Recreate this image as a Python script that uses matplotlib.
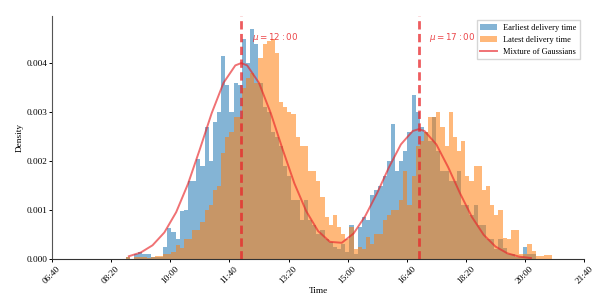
import matplotlib
matplotlib.use("Agg")
import matplotlib.pyplot as plt
import numpy as np

BLUE = "#1f77b4"
ORANGE = "#ff7f0e"
RED = "#e8262a"

# histogram bins: minutes after midnight, 7-minute bins from 08:45
BIN_START = 525
BIN_WIDTH = 7

# density values, in units of 1e-4
earliest = [
    0.5, 0.0, 1.0, 1.4, 1.0, 1.0, 0.3, 0.3, 0.5, 2.5,
    6.4, 5.5, 4.0, 9.8, 10.0, 16.0, 16.0, 20.5, 19.0, 27.0,
    20.0, 28.0, 30.0, 41.5, 35.5, 30.0, 36.0, 35.5, 45.0, 40.0,
    47.0, 44.0, 36.0, 31.0, 30.0, 26.0, 25.0, 23.0, 19.0, 17.0,
    12.0, 12.0, 8.0, 12.0, 8.0, 7.0, 5.0, 6.0, 4.0, 3.5,
    2.5, 2.0, 3.0, 1.5, 7.0, 1.0, 6.5, 8.5, 8.0, 13.0,
    14.0, 15.0, 17.0, 20.0, 27.5, 18.0, 20.0, 22.0, 26.0, 33.5,
    30.0, 27.0, 26.0, 24.0, 29.0, 22.0, 18.0, 18.0, 16.0, 16.0,
    18.0, 11.0, 11.0, 9.0, 11.0, 7.0, 7.0, 4.0, 4.0, 2.0,
    4.0, 2.2, 1.0, 1.0, 0.5, 0.5, 2.5, 1.0, 1.0,
]
latest = [
    0.3, 0.0, 0.3, 0.5, 0.3, 0.2, 0.5, 0.7, 0.7, 1.0,
    1.0, 1.5, 2.8, 2.2, 4.0, 4.0, 6.0, 6.0, 7.5, 10.0,
    11.0, 14.0, 15.0, 21.7, 25.0, 26.0, 29.0, 29.0, 35.0, 37.0,
    38.0, 36.0, 41.0, 44.0, 44.5, 45.0, 42.0, 32.0, 31.0, 30.0,
    29.6, 25.0, 23.0, 23.0, 18.0, 18.0, 16.0, 12.6, 8.5, 7.0,
    9.0, 6.5, 5.0, 4.0, 6.5, 2.0, 2.5, 2.0, 4.5, 3.0,
    5.0, 5.0, 8.0, 9.0, 10.0, 10.0, 12.0, 18.0, 11.0, 17.0,
    23.0, 24.0, 26.0, 29.0, 29.0, 30.0, 27.0, 23.0, 30.0, 25.0,
    22.0, 24.0, 17.0, 16.0, 19.0, 19.0, 14.0, 15.0, 11.0, 9.0,
    10.0, 4.3, 4.0, 6.0, 6.0, 1.0, 1.0, 3.0, 1.7, 0.6,
    0.6, 0.8, 0.8,
]

# mixture-of-Gaussians curve (minutes, density 1e-3)
curve_t = [530, 550, 570, 590, 610, 630, 650, 670, 690, 710, 720, 730, 750,
           770, 790, 810, 830, 850, 870, 890, 910, 930, 950, 970, 990, 1010,
           1020, 1030, 1050, 1070, 1090, 1110, 1130, 1150, 1170, 1190, 1210]
curve_d = [0.056, 0.131, 0.279, 0.541, 0.956, 1.534, 2.240, 2.976, 3.596,
           3.953, 4.000, 3.953, 3.596, 2.976, 2.240, 1.540, 0.974, 0.570,
           0.350, 0.330, 0.520, 0.882, 1.350, 1.876, 2.339, 2.613, 2.650,
           2.613, 2.339, 1.873, 1.342, 0.860, 0.493, 0.253, 0.116, 0.048,
           0.018]

means = [720, 1020]
mean_labels = [r"$\mu=12:00$", r"$\mu=17:00$"]

tick_minutes = [400, 500, 600, 700, 800, 900, 1000, 1100, 1200, 1300]
tick_labels = ["06:40", "08:20", "10:00", "11:40", "13:20",
               "15:00", "16:40", "18:20", "20:00", "21:40"]

plt.rcParams.update({
    "font.family": ["Liberation Serif", "DejaVu Serif"],
    "font.size": 6.7,
    "mathtext.fontset": "dejavusans",
})

fig = plt.figure(figsize=(6.02, 2.98), dpi=100)
ax = fig.add_axes([0.0864, 0.131, 0.884, 0.815])

e_left = BIN_START + BIN_WIDTH * np.arange(len(earliest))
l_left = BIN_START + BIN_WIDTH * np.arange(len(latest))
h1 = ax.bar(e_left, np.array(earliest) * 1e-4, width=BIN_WIDTH, align="edge",
            color=BLUE, alpha=0.55, linewidth=0, label="Earliest delivery time")
h2 = ax.bar(l_left, np.array(latest) * 1e-4, width=BIN_WIDTH, align="edge",
            color=ORANGE, alpha=0.55, linewidth=0, label="Latest delivery time")
h3, = ax.plot(curve_t, np.array(curve_d) * 1e-3, color=RED, alpha=0.65,
              linewidth=1.4, label="Mixture of Gaussians")

for m, text in zip(means, mean_labels):
    ax.axvline(m, color=RED, linestyle="--", linewidth=2, alpha=0.75,
               dashes=(3, 1.6))
    ax.text(m + 18, 0.00452, text, color=RED, alpha=0.85, fontsize=6.3,
            va="center", ha="left")

ax.set_xlim(400, 1300)
ax.set_ylim(0, 0.00496)
ax.set_xticks(tick_minutes, labels=tick_labels, rotation=45)
ax.set_yticks([0, 0.001, 0.002, 0.003, 0.004],
              labels=["0.000", "0.001", "0.002", "0.003", "0.004"])
ax.set_xlabel("Time", labelpad=1)
ax.set_ylabel("Density", labelpad=2)
ax.spines["top"].set_visible(False)
ax.spines["right"].set_visible(False)
ax.spines["left"].set_color("#555555")
ax.spines["bottom"].set_color("#333333")
ax.tick_params(length=2, width=0.7, pad=1.5)
ax.tick_params(axis="x", pad=2.5)

ax.legend(handles=[h1, h2, h3], loc="upper right", fontsize=6,
          fancybox=False, edgecolor="#cccccc")

fig.savefig("out.png", dpi=100)
